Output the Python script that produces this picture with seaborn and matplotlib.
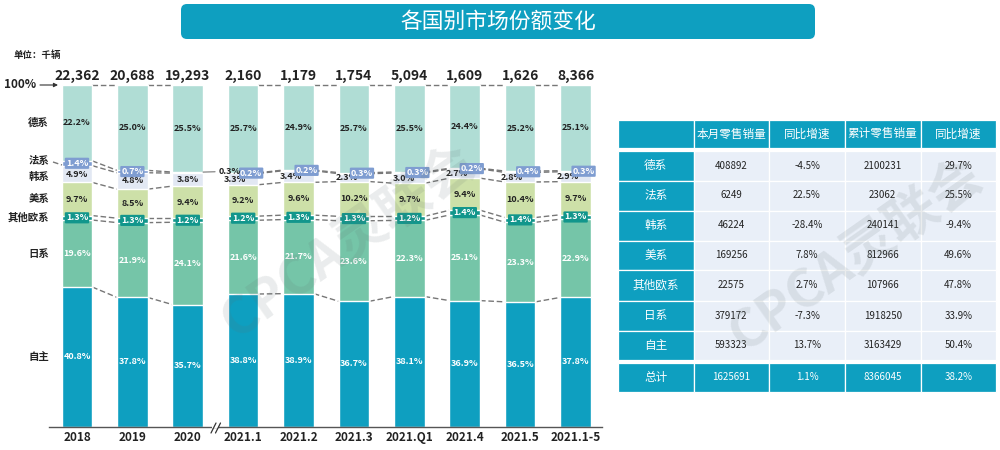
import numpy as np
import pandas as pd
import matplotlib
matplotlib.use("Agg")
import matplotlib.pyplot as plt
from matplotlib.patches import FancyBboxPatch, Rectangle
import seaborn as sns

sns.set_theme(style="white")
plt.rcParams['font.family'] = ['Noto Sans CJK SC', 'DejaVu Sans']

periods = ["2018", "2019", "2020", "2021.1", "2021.2", "2021.3", "2021.Q1", "2021.4", "2021.5", "2021.1-5"]
totals = ["22,362", "20,688", "19,293", "2,160", "1,179", "1,754", "5,094", "1,609", "1,626", "8,366"]

zizhu = [40.8, 37.8, 35.7, 38.8, 38.9, 36.7, 38.1, 36.9, 36.5, 37.8]
rixi = [19.6, 21.9, 24.1, 21.6, 21.7, 23.6, 22.3, 25.1, 23.3, 22.9]
oumei = [1.3, 1.3, 1.2, 1.2, 1.3, 1.3, 1.2, 1.4, 1.4, 1.3]
meixi = [9.7, 8.5, 9.4, 9.2, 9.6, 10.2, 9.7, 9.4, 10.4, 9.7]
hanxi = [4.9, 4.8, 3.8, 3.3, 3.4, 2.3, 3.0, 2.7, 2.8, 2.9]
faxi = [1.4, 0.7, 0.3, 0.2, 0.2, 0.3, 0.3, 0.2, 0.4, 0.3]
dexi = [22.2, 25.0, 25.5, 25.7, 24.9, 25.7, 25.5, 24.4, 25.2, 25.1]

series_names = ["自主", "日系", "其他欧系", "美系", "韩系", "法系", "德系"]
series_vals = [zizhu, rixi, oumei, meixi, hanxi, faxi, dexi]
series_cols = ["#0E9FC0", "#75C5A8", "#12968C", "#CDE0A8", "#E2E8F3", "#7F9DD1", "#B0DDD5"]
label_cols = ["white", "white", "white", "#222222", "#222222", "white", "#222222"]
name_y = [357, 254, 218, 199, 177, 161, 123]

table_cols = ["本月零售销量", "同比增速", "累计零售销量", "同比增速"]
table_rows = ["德系", "法系", "韩系", "美系", "其他欧系", "日系", "自主"]
month_sales = ["408892", "6249", "46224", "169256", "22575", "379172", "593323"]
month_yoy = ["-4.5%", "22.5%", "-28.4%", "7.8%", "2.7%", "-7.3%", "13.7%"]
cum_sales = ["2100231", "23062", "240141", "812966", "107966", "1918250", "3163429"]
cum_yoy = ["29.7%", "25.5%", "-9.4%", "49.6%", "47.8%", "33.9%", "50.4%"]
total_row = ["总计", "1625691", "1.1%", "8366045", "38.2%"]

vals = np.array(series_vals)
tops = np.cumsum(vals, axis=0)
tops = tops / tops[-1] * 100
bases = tops - vals * (tops[-1] / np.cumsum(vals, axis=0)[-1])

fig = plt.figure(figsize=(10, 4.5), dpi=100, facecolor="white")
ax = fig.add_axes([0.049, (450 - 426.5) / 450, 0.553, (426.5 - 85) / 450])

WIDTH = 0.552
for k in range(len(series_names) - 1, -1, -1):
    df = pd.DataFrame({"period": periods, "top": tops[k]})
    sns.barplot(data=df, x="period", y="top", order=periods, color=series_cols[k],
                saturation=1, width=WIDTH, ax=ax, errorbar=None, zorder=2)

ax.set_xlim(-0.505, 9.477)
ax.set_ylim(0, 100)
ax.set_xlabel("")
ax.set_ylabel("")
ax.set_yticks([])
ax.set_xticks(range(len(periods)))
ax.set_xticklabels(periods, fontsize=8.5, fontweight="bold", color="#222222")
ax.tick_params(axis="x", length=0, pad=3)
for s in ["top", "left", "right"]:
    ax.spines[s].set_visible(False)
ax.spines["bottom"].set_color("#555555")
ax.spines["bottom"].set_linewidth(1)

# connector lines between neighbouring bars (none across the axis break)
for k in range(len(series_names)):
    for i in range(len(periods) - 1):
        if i == 2:
            continue
        ax.plot([i + WIDTH / 2, i + 1 - WIDTH / 2], [tops[k][i], tops[k][i + 1]],
                color="#777777", lw=1, ls=(0, (4, 2)), zorder=1, clip_on=False)

# segment labels
han_dx = [0, 0, 0, -8, -8, -7, -6, -8, -8, -8]
fa_dx = [0, 0, 0, 8, 8, 8, 8, 7, 8, 8]
for k, name in enumerate(series_names):
    for i in range(len(periods)):
        mid = (tops[k][i] + bases[k][i]) / 2
        text = f"{vals[k][i]:.1f}%"
        dx = 0
        kw = {}
        if name == "韩系":
            dx = han_dx[i] * 0.72
        if name == "法系":
            if i == 2:
                continue
            dx = fa_dx[i] * 0.72
            kw = dict(bbox=dict(boxstyle="round,pad=0.12", fc=series_cols[k], ec="none"))
        if name == "其他欧系":
            kw = dict(bbox=dict(boxstyle="round,pad=0.12", fc=series_cols[k], ec="none"))
        ax.annotate(text, (i, mid), xytext=(dx, 0), textcoords="offset points",
                    ha="center", va="center", fontsize=6.5, fontweight="bold",
                    color=label_cols[k], zorder=6, **kw)

# the 2020 French share sits outside its bar
ax.annotate(f"{faxi[2]:.1f}%", (2 + WIDTH / 2, tops[5][2]), xytext=(11, 0.5),
            textcoords="offset points", ha="left", va="center", fontsize=6.5,
            fontweight="bold", color="#222222", zorder=6,
            arrowprops=dict(arrowstyle="-", color="#777777", lw=0.8, shrinkA=0, shrinkB=0))

for i, t in enumerate(totals):
    ax.annotate(t, (i, 100), xytext=(0, 6.5), textcoords="offset points", ha="center",
                va="center", fontsize=10, fontweight="bold", color="#222222", annotation_clip=False)

# page-level layer, one unit per pixel
ov = fig.add_axes([0, 0, 1, 1], zorder=5)
ov.set_xlim(0, 1000)
ov.set_ylim(450, 0)
ov.axis("off")
ov.patch.set_alpha(0)

ov.add_patch(FancyBboxPatch((185, 8), 626, 27, boxstyle="round,pad=0,rounding_size=5",
                            fc="#0E9FC0", ec="#D8F1F6", lw=0))
ov.add_patch(FancyBboxPatch((181, 4), 634, 35, boxstyle="round,pad=0,rounding_size=6",
                            fc="#0E9FC0", ec="none"))
ov.text(498, 22, "各国别市场份额变化", color="white", fontsize=15.7, ha="center", va="center")

ov.text(14, 55, "单位：千辆", fontsize=6.8, fontweight="bold", color="#222222", va="center")
ov.text(4, 85, "100%", fontsize=8.5, fontweight="bold", color="#222222", va="center")
ov.annotate("", xy=(58, 85), xytext=(40, 85),
            arrowprops=dict(arrowstyle="-|>", color="#333333", lw=0.8, mutation_scale=6, shrinkA=0, shrinkB=0))

for name, y in zip(series_names, name_y):
    ov.text(49, y, name, fontsize=7.5, fontweight="bold", color="#222222", ha="right", va="center")
ov.plot([53, 62], [162, 165], color="#777777", lw=1, ls=(0, (4, 2)))

# axis-break mark
for x0 in (211, 215.5):
    ov.plot([x0, x0 + 5], [433, 423], color="#333333", lw=0.9)
ov.add_patch(Rectangle((212, 425.5), 6, 2, fc="white", ec="none", zorder=0.5))

# table
col_x = [618, 693.5, 769, 845, 920.5, 996]
row_y = [151, 180.5, 210.5, 240.5, 270, 300.5, 331, 360]
TEAL = "#0E9FC0"
CELL = "#E9EFF8"


def cell(x0, x1, y0, y1, fc):
    ov.add_patch(Rectangle((x0, y0), x1 - x0, y1 - y0, fc=fc, ec="#FFFFFF", lw=0.9))


cell(col_x[0], col_x[1], 120, 148, TEAL)
for j, c in enumerate(table_cols):
    cell(col_x[j + 1], col_x[j + 2], 120, 148, TEAL)
    ov.text((col_x[j + 1] + col_x[j + 2]) / 2, 134, c, color="white", fontsize=8.4, ha="center", va="center")

columns = [month_sales, month_yoy, cum_sales, cum_yoy]
for r, name in enumerate(table_rows):
    y0, y1 = row_y[r], row_y[r + 1]
    ym = (y0 + y1) / 2
    cell(col_x[0], col_x[1], y0, y1, TEAL)
    ov.text((col_x[0] + col_x[1]) / 2, ym, name, color="white", fontsize=8.4, ha="center", va="center")
    for j, col in enumerate(columns):
        cell(col_x[j + 1], col_x[j + 2], y0, y1, CELL)
        ov.text((col_x[j + 1] + col_x[j + 2]) / 2, ym, col[r], color="#222222", fontsize=7,
                ha="center", va="center")
for j, t in enumerate(total_row):
    cell(col_x[j], col_x[j + 1], 363, 392, TEAL)
    ov.text((col_x[j] + col_x[j + 1]) / 2, 377.5, t, color="white",
            fontsize=8.4 if j == 0 else 7, ha="center", va="center")

# watermarks
for (wx, wy) in [(347, 242), (855, 255)]:
    ov.text(wx, wy, "CPCA灵联会", fontsize=38, fontweight="bold", color="#5F6F70", alpha=0.13,
            rotation=35, rotation_mode="anchor", ha="center", va="center", zorder=20)

fig.savefig("out.png", dpi=100, facecolor="white")
